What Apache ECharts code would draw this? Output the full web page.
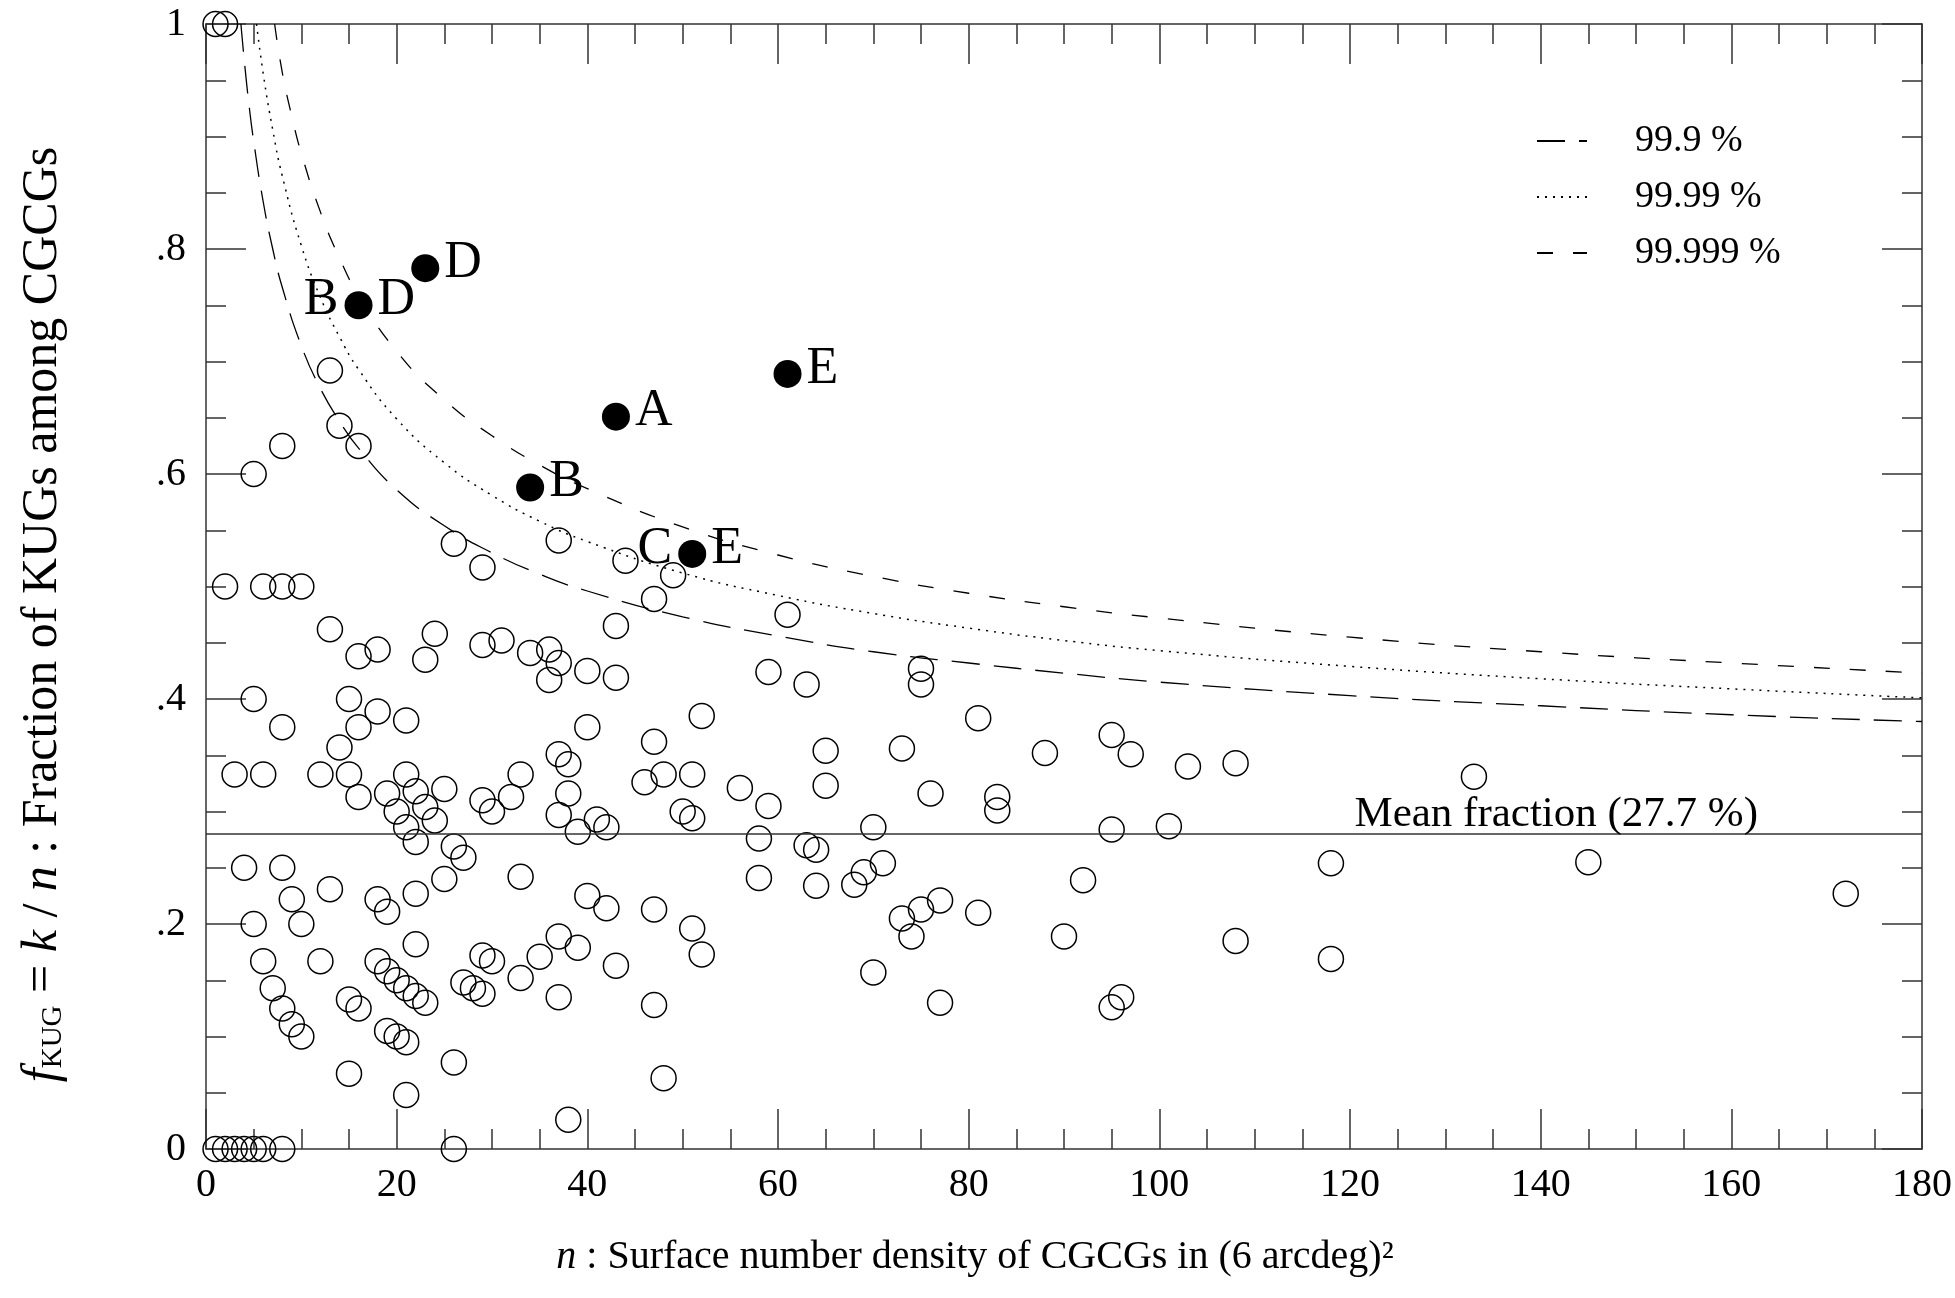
<!DOCTYPE html>
<html>
<head>
<meta charset="utf-8">
<script src="https://cdn.jsdelivr.net/npm/echarts@6/dist/echarts.min.js"></script>
<style>
  html, body { margin: 0; padding: 0; background: #fff; }
  #main { width: 1955px; height: 1298px; }
</style>
</head>
<body>
<div id="main"></div>
<script>
// open circles: [n, f = k/n]
const fieldPoints = [
  [1, 0], [2, 0], [3, 0], [4, 0], [5, 0], [6, 0], [8, 0], [26, 0],
  [1, 1], [2, 1],
  [2, 0.5], [3, 0.333], [4, 0.25], [5, 0.6], [5, 0.4], [5, 0.2],
  [6, 0.5], [6, 0.333], [6, 0.167], [7, 0.143],
  [8, 0.625], [8, 0.5], [8, 0.375], [8, 0.25], [8, 0.125],
  [9, 0.222], [9, 0.111], [10, 0.5], [10, 0.2], [10, 0.1],
  [12, 0.333], [12, 0.167], [13, 0.692], [13, 0.462], [13, 0.231],
  [14, 0.643], [14, 0.357], [15, 0.4], [15, 0.333], [15, 0.133], [15, 0.067],
  [16, 0.625], [16, 0.438], [16, 0.375], [16, 0.313], [16, 0.125],
  [18, 0.444], [18, 0.389], [18, 0.222], [18, 0.167],
  [19, 0.316], [19, 0.211], [19, 0.158], [19, 0.105],
  [20, 0.3], [20, 0.15], [20, 0.1],
  [21, 0.381], [21, 0.333], [21, 0.286], [21, 0.143], [21, 0.095], [21, 0.048],
  [22, 0.318], [22, 0.273], [22, 0.227], [22, 0.182], [22, 0.136],
  [23, 0.435], [23, 0.304], [23, 0.13], [24, 0.458], [24, 0.292],
  [25, 0.32], [25, 0.24], [26, 0.538], [26, 0.269], [26, 0.077],
  [27, 0.259], [27, 0.148], [28, 0.143],
  [29, 0.517], [29, 0.448], [29, 0.31], [29, 0.172], [29, 0.138],
  [30, 0.3], [30, 0.167], [31, 0.452], [32, 0.313],
  [33, 0.333], [33, 0.242], [33, 0.152], [34, 0.441], [35, 0.171],
  [36, 0.444], [36, 0.417],
  [37, 0.541], [37, 0.432], [37, 0.351], [37, 0.297], [37, 0.189], [37, 0.135],
  [38, 0.342], [38, 0.316], [38, 0.026], [39, 0.282], [39, 0.179],
  [40, 0.425], [40, 0.375], [40, 0.225], [41, 0.293], [42, 0.286], [42, 0.214],
  [43, 0.465], [43, 0.419], [43, 0.163], [44, 0.523], [46, 0.326],
  [47, 0.489], [47, 0.362], [47, 0.213], [47, 0.128], [48, 0.333], [48, 0.063],
  [49, 0.51], [50, 0.3], [51, 0.333], [51, 0.294], [51, 0.196], [52, 0.385], [52, 0.173],
  [56, 0.321], [58, 0.276], [58, 0.241], [59, 0.424], [59, 0.305], [61, 0.475],
  [63, 0.413], [63, 0.27], [64, 0.266], [64, 0.234], [65, 0.354], [65, 0.323],
  [68, 0.235], [69, 0.246], [70, 0.286], [70, 0.157], [71, 0.254],
  [73, 0.356], [73, 0.205], [74, 0.189], [75, 0.427], [75, 0.413], [75, 0.213],
  [76, 0.316], [77, 0.221], [77, 0.13], [81, 0.383], [81, 0.21],
  [83, 0.313], [83, 0.301], [88, 0.352], [90, 0.189], [92, 0.239],
  [95, 0.368], [95, 0.284], [95, 0.126], [96, 0.135], [97, 0.351],
  [101, 0.287], [103, 0.34], [108, 0.343], [108, 0.185],
  [118, 0.254], [118, 0.169], [133, 0.331], [145, 0.255], [172, 0.227]
];

// filled circles and their letters
const markedPoints = [[16, 0.75], [23, 0.783], [34, 0.588], [43, 0.651], [51, 0.529], [61, 0.689]];
const rightLetters = ['D', 'D', 'B', 'A', 'E', 'E'];
const leftLetters = ['B', '', '', '', 'C', ''];

// confidence limits: [n, f]
const limit999 = [
  [3.66, 1.0], [4, 0.969], [4.5, 0.929], [5, 0.896], [6, 0.842], [7, 0.8], [8, 0.766],
  [10, 0.714], [12, 0.676], [14, 0.647], [16, 0.623], [20, 0.586], [25, 0.554],
  [30, 0.53], [35, 0.511], [40, 0.496], [50, 0.473], [60, 0.456], [70, 0.442],
  [80, 0.432], [90, 0.423], [100, 0.415], [120, 0.403], [140, 0.394], [160, 0.386], [180, 0.38]
];
const limit9999 = [
  [5.3, 1.0], [6, 0.956], [7, 0.906], [8, 0.865], [10, 0.803], [12, 0.757], [14, 0.722],
  [16, 0.693], [20, 0.649], [25, 0.61], [30, 0.581], [35, 0.558], [40, 0.54],
  [50, 0.512], [60, 0.492], [70, 0.476], [80, 0.463], [90, 0.452], [100, 0.443],
  [120, 0.429], [140, 0.418], [160, 0.409], [180, 0.401]
];
const limit99999 = [
  [7.2, 1.0], [8, 0.957], [9, 0.918], [10, 0.885], [12, 0.833], [14, 0.792], [16, 0.759],
  [20, 0.709], [25, 0.666], [30, 0.634], [35, 0.608], [40, 0.587], [50, 0.553],
  [60, 0.528], [70, 0.509], [80, 0.494], [90, 0.482], [100, 0.472], [120, 0.455],
  [140, 0.442], [160, 0.432], [180, 0.423]
];
const limitNames = ['99.9 %', '99.99 %', '99.999 %'];

const meanFraction = 0.277;
const yTickLabels = ['0', '.2', '.4', '.6', '.8', '1'];

const FONT = 'Liberation Serif';
const INK = '#000';
const AXIS = '#333';

const chart = echarts.init(document.getElementById('main'));

// 共用的坐标轴样式
function frameAxis(extra) {
  return Object.assign({
    type: 'value',
    axisLine: { show: true, onZero: false, lineStyle: { color: AXIS, width: 1.5 } },
    axisTick: { show: true, inside: true, length: 40, lineStyle: { color: AXIS, width: 1.5 } },
    minorTick: { show: true, splitNumber: 4, length: 20, lineStyle: { color: AXIS, width: 1.5 } },
    splitLine: { show: false },
    minorSplitLine: { show: false },
  }, extra);
}

const xBase = { min: 0, max: 180, interval: 20 };
const yBase = { min: 0, max: 1, interval: 0.2 };

const option = {
  backgroundColor: '#fff',
  animation: false,
  color: [INK],
  grid: { left: 206, right: 33, top: 24, bottom: 149, containLabel: false },
  legend: {
    data: limitNames,
    orient: 'vertical',
    left: 1531,
    top: 117,
    itemWidth: 50,
    itemHeight: 14,
    itemGap: 18,
    selectedMode: false,
    itemStyle: { opacity: 0 },
    textStyle: { fontFamily: FONT, fontSize: 38, color: INK, padding: [0, 0, 0, 43] },
  },
  xAxis: [
    frameAxis(Object.assign({}, xBase, {
      position: 'bottom',
      axisLabel: { show: true, margin: 16, fontFamily: FONT, fontSize: 40, color: INK },
      name: '{it|n} : Surface number density of CGCGs in (6 arcdeg)²',
      nameLocation: 'middle',
      nameGap: 88,
      nameTextStyle: {
        fontFamily: FONT, fontSize: 40, color: INK,
        padding: [0, 178, 0, 0],
        rich: {
          it: { fontFamily: FONT, fontSize: 40, fontStyle: 'italic', color: INK },
        },
      },
    })),
    frameAxis(Object.assign({}, xBase, { position: 'top', axisLabel: { show: false } })),
  ],
  yAxis: [
    frameAxis(Object.assign({}, yBase, {
      position: 'left',
      axisLabel: {
        show: true, margin: 20, fontFamily: FONT, fontSize: 40, color: INK,
        formatter: (v) => yTickLabels[Math.round(v / 0.2)],
      },
      name: '{it|f}{sub|KUG} = {it|k} / {it|n} : Fraction of KUGs among CGCGs',
      nameLocation: 'middle',
      nameGap: 138,
      nameTextStyle: {
        fontFamily: FONT, fontSize: 50, color: INK,
        padding: [0, 56, 0, 0],
        rich: {
          it: { fontFamily: FONT, fontSize: 50, fontStyle: 'italic', color: INK },
          sub: { fontFamily: FONT, fontSize: 29, color: INK, verticalAlign: 'bottom' },
        },
      },
    })),
    frameAxis(Object.assign({}, yBase, { position: 'right', axisLabel: { show: false } })),
  ],
  series: [
    {
      type: 'scatter',
      name: 'groups',
      data: fieldPoints,
      symbol: 'circle',
      symbolSize: 25,
      itemStyle: { color: 'rgba(0,0,0,0)', borderColor: INK, borderWidth: 1.5, opacity: 1 },
      z: 3,
      markLine: {
        silent: true,
        symbol: 'none',
        lineStyle: { color: AXIS, width: 1.5, type: 'solid' },
        label: {
          show: true,
          position: 'insideEndTop',
          distance: [164, -2],
          formatter: 'Mean fraction (27.7 %)',
          fontFamily: FONT, fontSize: 43, color: INK,
        },
        data: [{ yAxis: meanFraction }],
      },
    },
    {
      type: 'scatter',
      name: 'flagged',
      data: markedPoints,
      symbol: 'circle',
      symbolSize: 28,
      itemStyle: { color: INK, opacity: 1 },
      z: 4,
      label: {
        show: true,
        position: 'right',
        distance: 5,
        offset: [0, -5],
        fontFamily: FONT, fontSize: 52, color: INK,
        formatter: (p) => rightLetters[p.dataIndex],
      },
    },
    {
      type: 'scatter',
      name: 'flaggedLeft',
      data: markedPoints,
      symbol: 'circle',
      symbolSize: 28,
      itemStyle: { color: 'rgba(0,0,0,0)', borderWidth: 0, opacity: 1 },
      z: 4,
      label: {
        show: true,
        position: 'left',
        distance: 6,
        offset: [0, -5],
        opacity: 1,
        fontFamily: FONT, fontSize: 52, color: INK,
        formatter: (p) => leftLetters[p.dataIndex],
      },
    },
    {
      type: 'line', name: limitNames[0], data: limit999, symbol: 'none',
      smooth: 0.5,
      itemStyle: { color: INK },
      lineStyle: { color: INK, width: 1.3, type: [28, 14] },
    },
    {
      type: 'line', name: limitNames[1], data: limit9999, symbol: 'none',
      smooth: 0.5,
      itemStyle: { color: INK },
      lineStyle: { color: INK, width: 1.5, type: [2, 6] },
    },
    {
      type: 'line', name: limitNames[2], data: limit99999, symbol: 'none',
      smooth: 0.5,
      itemStyle: { color: INK },
      lineStyle: { color: INK, width: 1.3, type: [16, 20] },
    },
  ],
};

chart.setOption(option);
</script>
</body>
</html>
